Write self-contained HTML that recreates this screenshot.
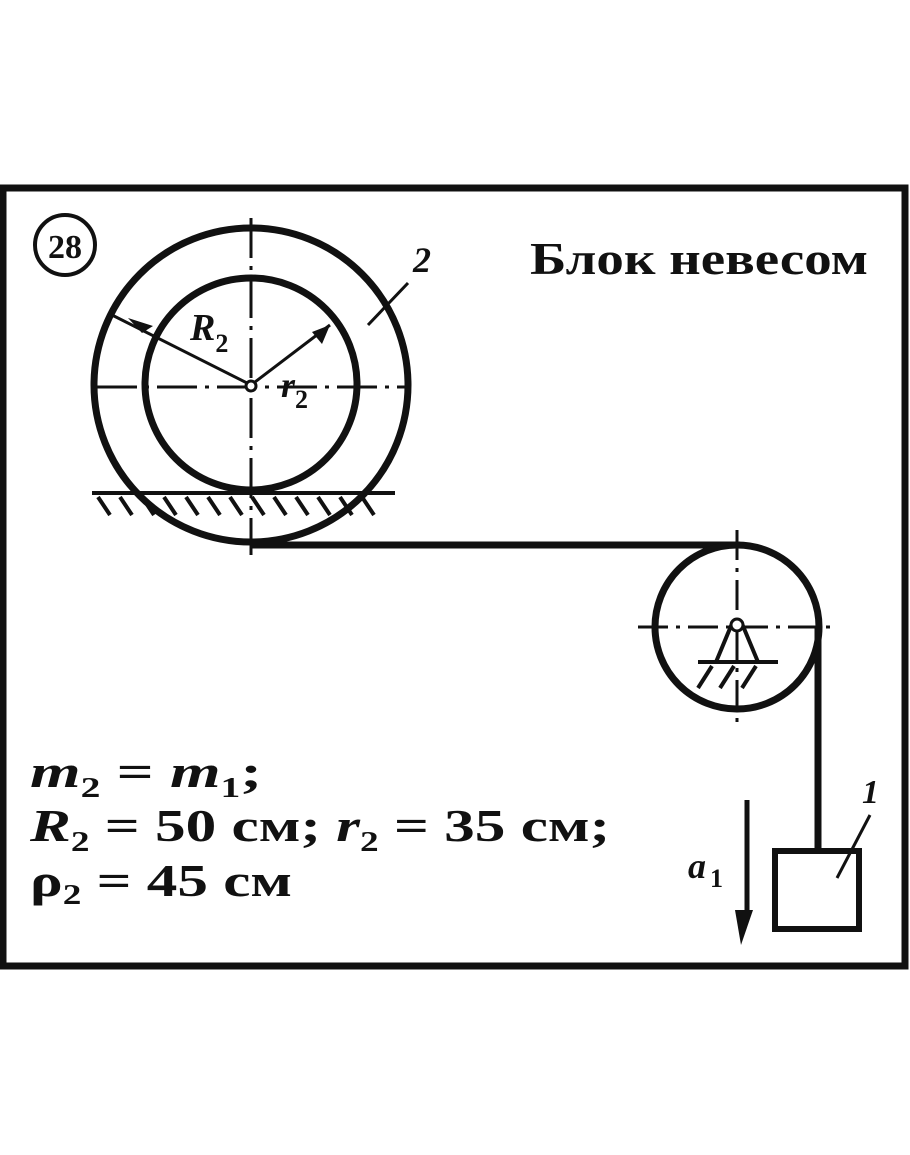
<!DOCTYPE html>
<html><head><meta charset="utf-8"><style>
html,body{margin:0;padding:0;background:#fff;width:910px;height:1155px;overflow:hidden}
svg{display:block}
text{font-family:"Liberation Serif",serif;font-weight:bold;fill:#111}
</style></head><body>
<svg width="910" height="1155" viewBox="0 0 910 1155">
<rect x="3" y="188" width="902" height="778" fill="none" stroke="#111" stroke-width="7"/>
<circle cx="65" cy="245" r="30" fill="none" stroke="#111" stroke-width="4"/>
<text x="65" y="258" font-size="34" text-anchor="middle">28</text>
<text x="530" y="274" font-size="46" textLength="338" lengthAdjust="spacingAndGlyphs">Блок невесом</text>
<g stroke="#111" fill="none">
<circle cx="251" cy="385" r="157" stroke-width="7"/>
<circle cx="251" cy="384" r="106" stroke-width="7"/>
<line x1="251" y1="218" x2="251" y2="555" stroke-width="3" stroke-dasharray="40,8,4,8"/>
<line x1="97" y1="387" x2="410" y2="387" stroke-width="3" stroke-dasharray="40,8,4,8"/>
<line x1="112" y1="315" x2="251" y2="385" stroke-width="3"/>
<line x1="251" y1="385" x2="330" y2="325" stroke-width="3"/>
<line x1="368" y1="325" x2="408" y2="283" stroke-width="3"/>
<line x1="92" y1="493" x2="395" y2="493" stroke-width="4"/>
<g stroke-width="4">
<line x1="98" y1="497" x2="110" y2="515"/><line x1="120" y1="497" x2="132" y2="515"/>
<line x1="142" y1="497" x2="154" y2="515"/><line x1="164" y1="497" x2="176" y2="515"/>
<line x1="186" y1="497" x2="198" y2="515"/><line x1="208" y1="497" x2="220" y2="515"/>
<line x1="230" y1="497" x2="242" y2="515"/><line x1="252" y1="497" x2="264" y2="515"/>
<line x1="274" y1="497" x2="286" y2="515"/><line x1="296" y1="497" x2="308" y2="515"/>
<line x1="318" y1="497" x2="330" y2="515"/><line x1="340" y1="497" x2="352" y2="515"/>
<line x1="362" y1="497" x2="374" y2="515"/>
</g>
<line x1="251" y1="545" x2="740" y2="545" stroke-width="7"/>
<circle cx="737" cy="627" r="82" stroke-width="7"/>
<line x1="737" y1="530" x2="737" y2="726" stroke-width="3" stroke-dasharray="30,8,4,8"/>
<line x1="638" y1="627" x2="835" y2="627" stroke-width="3" stroke-dasharray="30,8,4,8"/>
<line x1="818" y1="627" x2="818" y2="852" stroke-width="7"/>
<polyline points="716,662 731,626 743,626 758,662" stroke-width="4"/>
<line x1="698" y1="662" x2="778" y2="662" stroke-width="4"/>
<line x1="698" y1="688" x2="712" y2="666" stroke-width="4"/>
<line x1="720" y1="688" x2="734" y2="666" stroke-width="4"/>
<line x1="742" y1="688" x2="756" y2="666" stroke-width="4"/>
<rect x="775" y="851" width="84" height="78" stroke-width="6"/>
<line x1="837" y1="878" x2="870" y2="815" stroke-width="3"/>
<line x1="747" y1="800" x2="747" y2="920" stroke-width="5"/>
</g>
<circle cx="251" cy="386" r="5" fill="#fff" stroke="#111" stroke-width="3"/>
<circle cx="737" cy="625" r="6" fill="#fff" stroke="#111" stroke-width="3"/>
<polygon points="142,333 128,318 153,326" fill="#111"/>
<polygon points="330,325 312,332 322,344" fill="#111"/>
<polygon points="741,945 735,910 753,910" fill="#111"/>
<text x="190" y="340" font-size="38" font-style="italic">R<tspan font-size="26" font-style="normal" dy="12">2</tspan></text>
<text x="281" y="397" font-size="36" font-style="italic">r<tspan font-size="26" font-style="normal" dy="11">2</tspan></text>
<text x="413" y="272" font-size="36" font-style="italic">2</text>
<text x="862" y="803" font-size="34" font-style="italic">1</text>
<text x="688" y="878" font-size="36" font-style="italic">a<tspan font-size="26" font-style="normal" dx="4" dy="9">1</tspan></text>
<text x="30" y="787" font-size="46" textLength="232" lengthAdjust="spacingAndGlyphs"><tspan font-style="italic">m</tspan><tspan font-size="28" dy="10">2</tspan><tspan dy="-10"> = </tspan><tspan font-style="italic">m</tspan><tspan font-size="28" dy="10">1</tspan><tspan dy="-10">;</tspan></text>
<text x="30" y="841" font-size="46" textLength="580" lengthAdjust="spacingAndGlyphs"><tspan font-style="italic">R</tspan><tspan font-size="28" dy="10">2</tspan><tspan dy="-10"> = 50 см; </tspan><tspan font-style="italic">r</tspan><tspan font-size="28" dy="10">2</tspan><tspan dy="-10"> = 35 см;</tspan></text>
<text x="30" y="896" font-size="46" textLength="262" lengthAdjust="spacingAndGlyphs">ρ<tspan font-size="28" dy="8">2</tspan><tspan dy="-8"> = 45 см</tspan></text>
</svg>
</body></html>
